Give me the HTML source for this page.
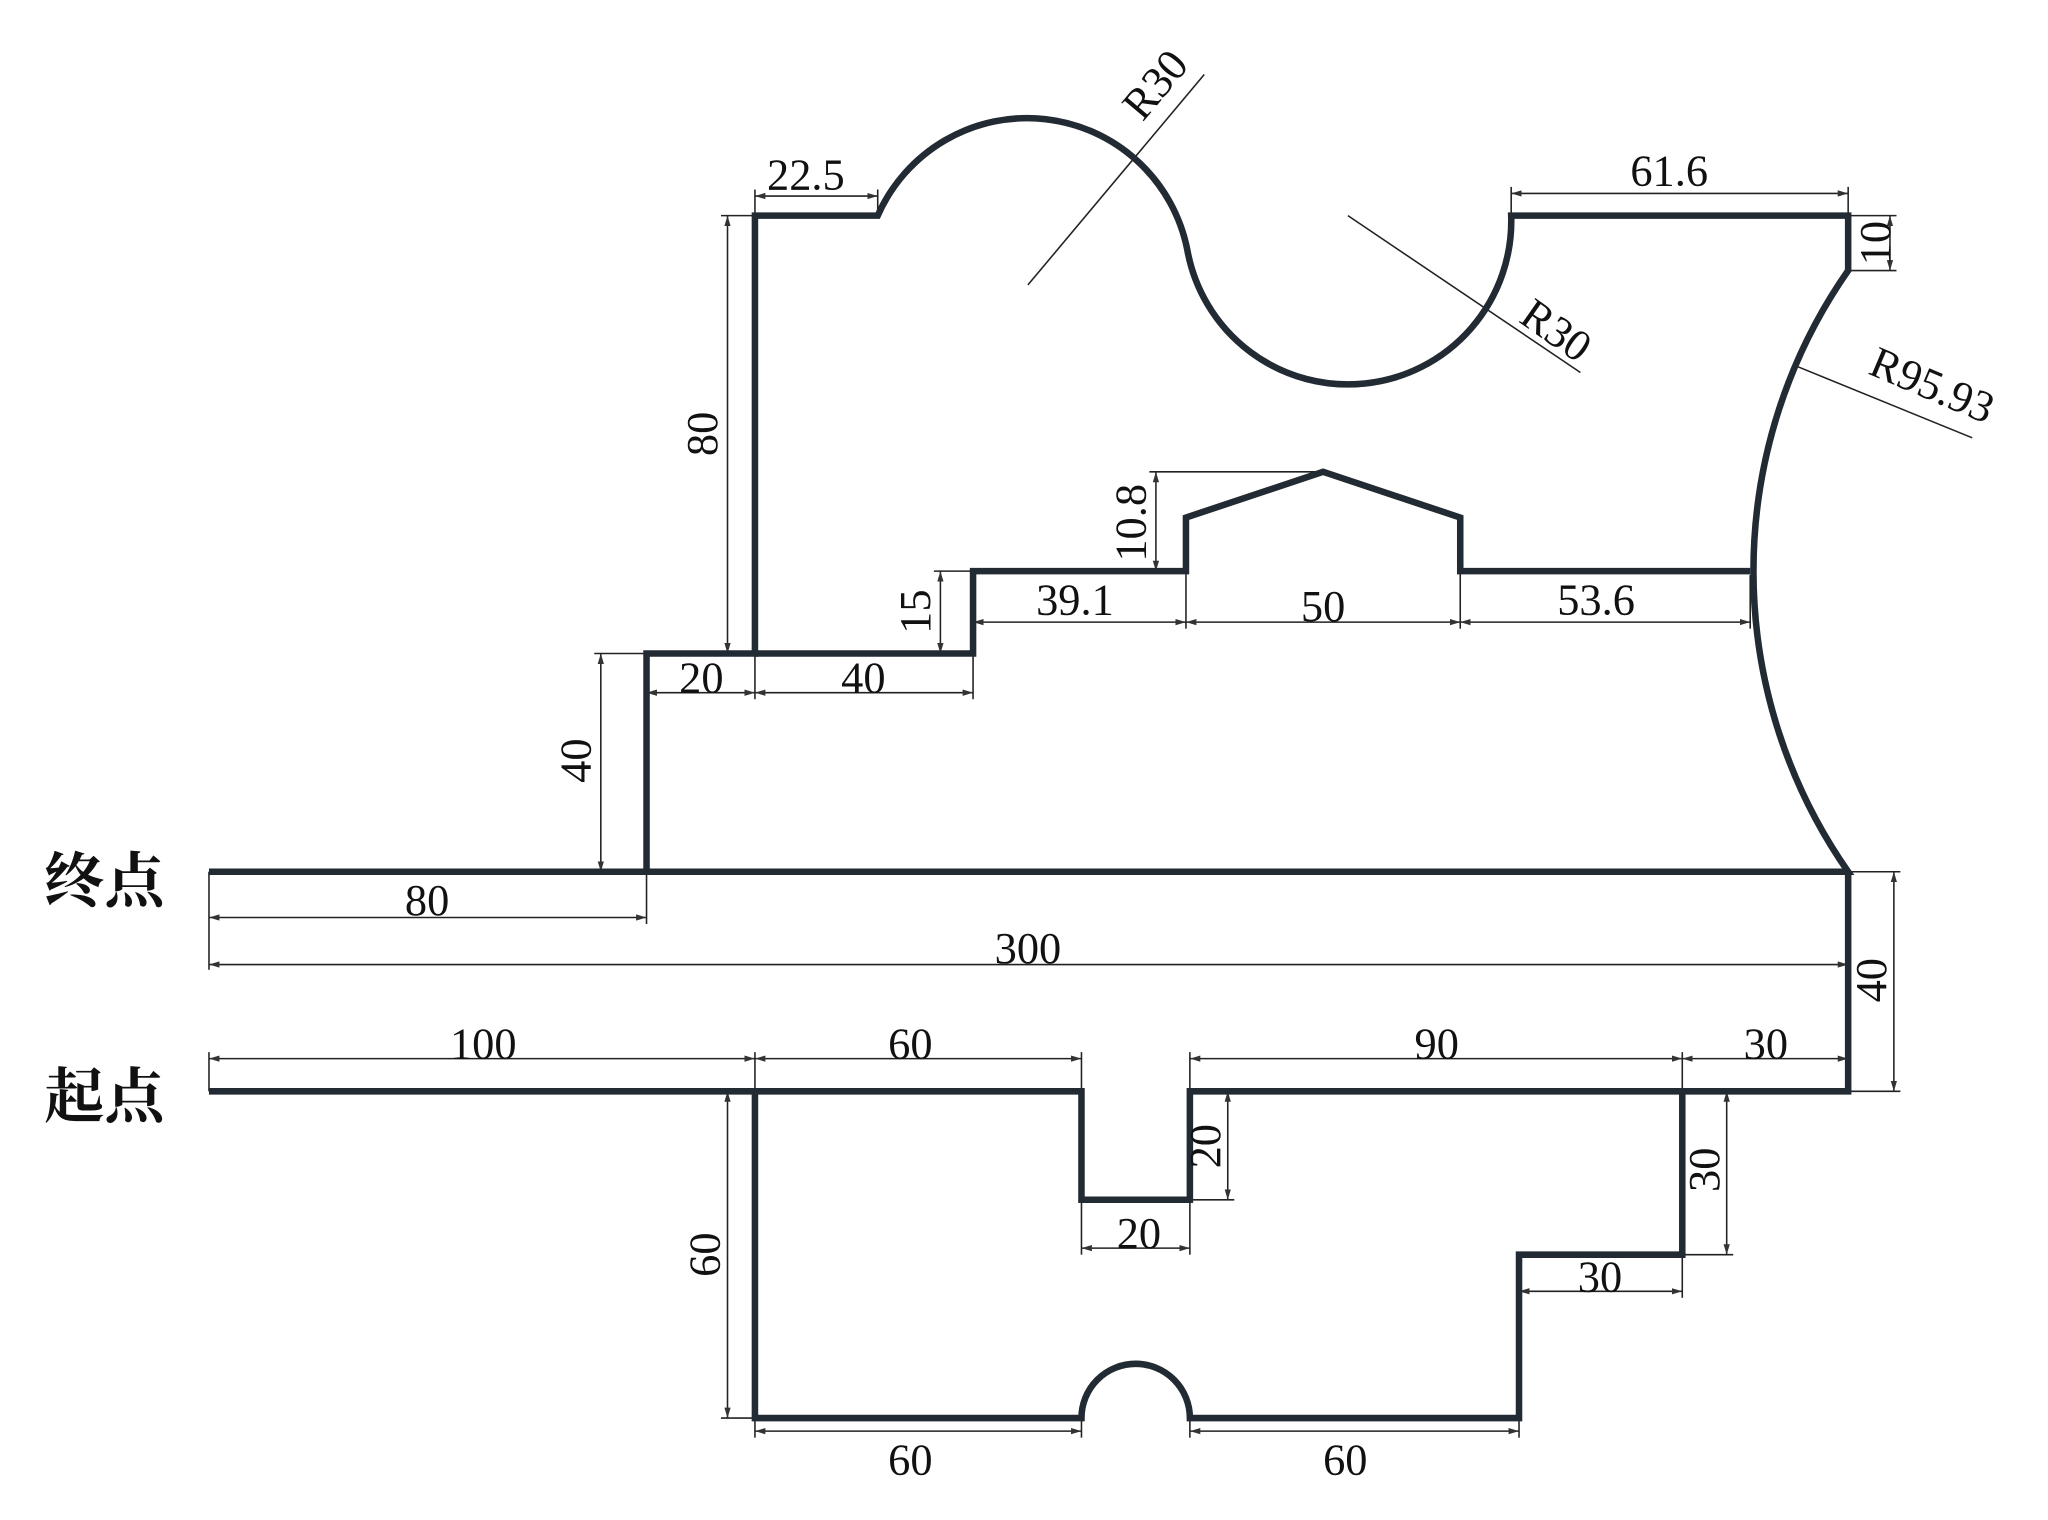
<!DOCTYPE html>
<html><head><meta charset="utf-8"><style>
html,body{margin:0;padding:0;background:#fff;}
svg{display:block;}
text{font-family:"Liberation Serif","Noto Serif CJK SC",serif;font-size:34px;fill:#111;}
.cn{font-family:"Liberation Serif","Noto Serif CJK SC",serif;font-size:46px;font-weight:bold;}
</style></head><body>
<svg width="2048" height="1520" viewBox="0 0 1568 1163" preserveAspectRatio="none" xmlns="http://www.w3.org/2000/svg">
<defs>
<marker id="a" viewBox="0 0 10 10" refX="10" refY="5" markerWidth="8" markerHeight="8" orient="auto-start-reverse" markerUnits="userSpaceOnUse"><path d="M0,2 L10,5 L0,8 z" fill="#333"/></marker>
</defs>
<g stroke="#222" stroke-width="1.2" fill="none">
<line x1="578" y1="150" x2="672" y2="150" marker-start="url(#a)" marker-end="url(#a)"/>
<line x1="578" y1="145" x2="578" y2="165"/><line x1="672" y1="145" x2="672" y2="165"/>
<line x1="1157" y1="148" x2="1415" y2="148" marker-start="url(#a)" marker-end="url(#a)"/>
<line x1="1157" y1="143" x2="1157" y2="165"/><line x1="1415" y1="143" x2="1415" y2="165"/>
<line x1="1447" y1="165" x2="1447" y2="207" marker-start="url(#a)" marker-end="url(#a)"/>
<line x1="1415" y1="165" x2="1452" y2="165"/><line x1="1415" y1="207" x2="1452" y2="207"/>
<line x1="557" y1="165" x2="557" y2="500" marker-start="url(#a)" marker-end="url(#a)"/>
<line x1="552" y1="165" x2="578" y2="165"/>
<line x1="460" y1="500" x2="460" y2="667" marker-start="url(#a)" marker-end="url(#a)"/>
<line x1="455" y1="500" x2="495" y2="500"/>
<line x1="720" y1="437" x2="720" y2="500" marker-start="url(#a)" marker-end="url(#a)"/>
<line x1="715" y1="437" x2="745" y2="437"/>
<line x1="885" y1="361" x2="885" y2="437" marker-start="url(#a)" marker-end="url(#a)"/>
<line x1="880" y1="361" x2="1013" y2="361"/>
<line x1="745" y1="476" x2="908" y2="476" marker-start="url(#a)" marker-end="url(#a)"/>
<line x1="908" y1="476" x2="1118" y2="476" marker-start="url(#a)" marker-end="url(#a)"/>
<line x1="1118" y1="476" x2="1340" y2="476" marker-start="url(#a)" marker-end="url(#a)"/>
<line x1="745" y1="437" x2="745" y2="481"/><line x1="908" y1="437" x2="908" y2="481"/><line x1="1118" y1="437" x2="1118" y2="481"/><line x1="1340" y1="440" x2="1340" y2="481"/>
<line x1="495" y1="530" x2="578" y2="530" marker-start="url(#a)" marker-end="url(#a)"/>
<line x1="578" y1="530" x2="745" y2="530" marker-start="url(#a)" marker-end="url(#a)"/>
<line x1="495" y1="500" x2="495" y2="535"/><line x1="578" y1="500" x2="578" y2="535"/><line x1="745" y1="500" x2="745" y2="535"/>
<line x1="787" y1="218" x2="922" y2="57"/>
<line x1="1032" y1="165" x2="1210" y2="285"/>
<line x1="1375" y1="280" x2="1510" y2="335"/>
<line x1="160" y1="702" x2="495" y2="702" marker-start="url(#a)" marker-end="url(#a)"/>
<line x1="160" y1="667" x2="160" y2="742"/><line x1="495" y1="667" x2="495" y2="707"/>
<line x1="160" y1="738" x2="1415" y2="738" marker-start="url(#a)" marker-end="url(#a)"/>
<line x1="1415" y1="667" x2="1455" y2="667"/><line x1="1415" y1="835" x2="1455" y2="835"/>
<line x1="1450" y1="667" x2="1450" y2="835" marker-start="url(#a)" marker-end="url(#a)"/>
<line x1="160" y1="810" x2="578" y2="810" marker-start="url(#a)" marker-end="url(#a)"/>
<line x1="578" y1="810" x2="828" y2="810" marker-start="url(#a)" marker-end="url(#a)"/>
<line x1="911" y1="810" x2="1288" y2="810" marker-start="url(#a)" marker-end="url(#a)"/>
<line x1="1288" y1="810" x2="1415" y2="810" marker-start="url(#a)" marker-end="url(#a)"/>
<line x1="160" y1="805" x2="160" y2="835"/><line x1="578" y1="805" x2="578" y2="835"/><line x1="828" y1="805" x2="828" y2="835"/><line x1="911" y1="805" x2="911" y2="835"/><line x1="1288" y1="805" x2="1288" y2="835"/>
<line x1="940" y1="835" x2="940" y2="918" marker-start="url(#a)" marker-end="url(#a)"/>
<line x1="911" y1="918" x2="945" y2="918"/>
<line x1="828" y1="955" x2="911" y2="955" marker-start="url(#a)" marker-end="url(#a)"/>
<line x1="828" y1="918" x2="828" y2="960"/><line x1="911" y1="918" x2="911" y2="960"/>
<line x1="1322" y1="835" x2="1322" y2="960" marker-start="url(#a)" marker-end="url(#a)"/>
<line x1="1288" y1="960" x2="1327" y2="960"/><line x1="1288" y1="835" x2="1327" y2="835"/>
<line x1="1163" y1="988" x2="1288" y2="988" marker-start="url(#a)" marker-end="url(#a)"/>
<line x1="1288" y1="960" x2="1288" y2="993"/><line x1="1163" y1="960" x2="1163" y2="993"/>
<line x1="557" y1="835" x2="557" y2="1085" marker-start="url(#a)" marker-end="url(#a)"/>
<line x1="552" y1="1085" x2="578" y2="1085"/>
<line x1="578" y1="1095" x2="828" y2="1095" marker-start="url(#a)" marker-end="url(#a)"/>
<line x1="911" y1="1095" x2="1163" y2="1095" marker-start="url(#a)" marker-end="url(#a)"/>
<line x1="578" y1="1085" x2="578" y2="1100"/><line x1="828" y1="1085" x2="828" y2="1100"/><line x1="911" y1="1085" x2="911" y2="1100"/><line x1="1163" y1="1085" x2="1163" y2="1100"/>
</g>
<g stroke="#222a33" stroke-width="5" fill="none" stroke-linejoin="miter">
<path d="M160,667 L1415,667 A401,401 0 0 1 1415,207 L1415,165 L1157,165 A125,125 0 0 1 909,191 A125,125 0 0 0 672,165 L578,165 L578,500 L495,500 L495,667"/>
<path d="M578,500 L745,500 L745,437 L908,437 L908,396 L1013,361 L1118,396 L1118,437 L1340,437"/>
<path d="M1415,667 L1415,835 L911,835 L911,918 L828,918 L828,835 L160,835"/>
<path d="M578,835 L578,1085 L828,1085 A41,41 0 0 1 911,1085 L1163,1085 L1163,960 L1288,960 L1288,835"/>
</g>
<g text-anchor="middle">
<text x="617" y="145">22.5</text>
<text x="1278" y="142">61.6</text>
<text transform="translate(1447,186) rotate(-90)">10</text>
<text transform="translate(557,332) rotate(-90)" dy="-8">80</text>
<text transform="translate(460,582) rotate(-90)" dy="-8">40</text>
<text transform="translate(720,468) rotate(-90)" dy="-8">15</text>
<text transform="translate(885,400) rotate(-90)" dy="-8">10.8</text>
<text x="823" y="470">39.1</text>
<text x="1013" y="475">50</text>
<text x="1222" y="470">53.6</text>
<text x="537" y="530">20</text>
<text x="661" y="530">40</text>
<text transform="translate(893,72) rotate(-50)">R30</text>
<text transform="translate(1185,262) rotate(35)">R30</text>
<text transform="translate(1475,305) rotate(23)">R95.93</text>
<text x="327" y="700">80</text>
<text x="787" y="737">300</text>
<text transform="translate(1450,750) rotate(-90)" dy="-6">40</text>
<text x="370" y="810">100</text>
<text x="697" y="810">60</text>
<text x="1100" y="810">90</text>
<text x="1352" y="810">30</text>
<text transform="translate(940,877) rotate(-90)" dy="-6">20</text>
<text x="872" y="955">20</text>
<text transform="translate(1322,895) rotate(-90)" dy="-6">30</text>
<text x="1225" y="988">30</text>
<text transform="translate(557,960) rotate(-90)" dy="-6">60</text>
<text x="697" y="1128">60</text>
<text x="1030" y="1128">60</text>
</g>
<text class="cn" x="34" y="690">终点</text>
<text class="cn" x="34" y="855">起点</text>
</svg>
</body></html>
